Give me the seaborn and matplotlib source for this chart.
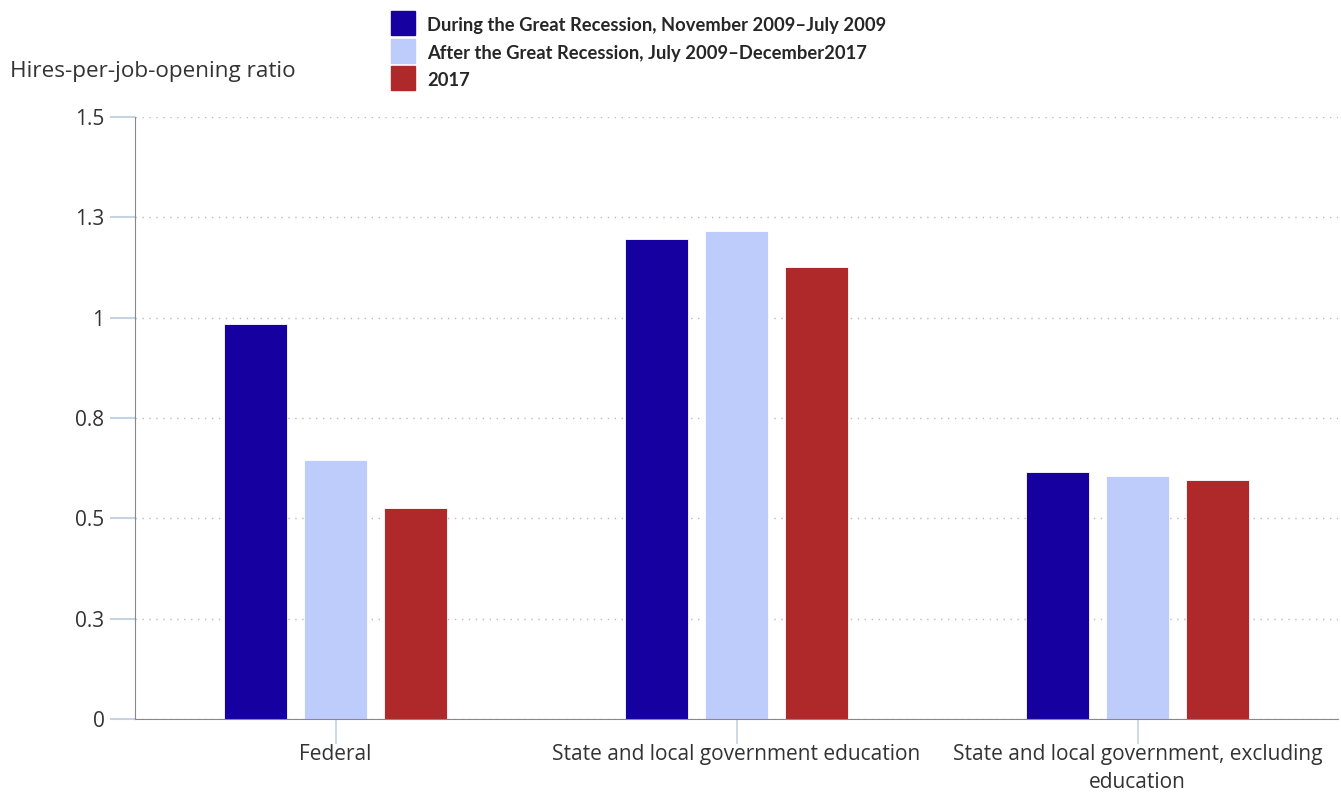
import pandas as pd
import numpy as np

import matplotlib.pyplot as plt
import seaborn as sns
from matplotlib.lines import Line2D

# datos
categories = ["Federal",
              "State and local government education",
              "State and local government, excluding\neducation"]
periods = ["During the Great Recession, November 2009\u2013July 2009",
           "After the Great Recession, July 2009\u2013December2017",
           "2017"]
during = [0.985, 1.195, 0.615]
after = [0.645, 1.215, 0.605]
y2017 = [0.525, 1.125, 0.595]
y_ticks = [0, 0.25, 0.5, 0.75, 1, 1.25, 1.5]
y_labels = ["0", "0.3", "0.5", "0.8", "1", "1.3", "1.5"]
colors = ["#1600A0", "#BDCCFB", "#B0292A"]

data = pd.DataFrame({
    "category": categories * 3,
    "period": [periods[0]] * 3 + [periods[1]] * 3 + [periods[2]] * 3,
    "ratio": during + after + y2017,
})

sns.set_style("white")
plt.rcParams['font.family'] = ['Open Sans', 'DejaVu Sans']

fig = plt.figure(figsize=(13.41, 7.93), dpi=100)
ax = fig.add_axes([0.1007, 0.0933, 0.8971, 0.7592])

sns.barplot(data=data, x="category", y="ratio", hue="period", palette=colors,
            width=0.6, gap=0.215, ax=ax, saturation=1, edgecolor="white",
            linewidth=0.6, legend=False)

ax.set_xlim(-0.5, 2.5)
ax.set_ylim(0, 1.5)
ax.set_yticks(y_ticks)
ax.set_yticklabels(y_labels)
ax.yaxis.grid(True, linestyle=(0, (1, 4)), color="#BBBBBB", linewidth=1)
ax.set_axisbelow(True)

for s in ["top", "right"]:
    ax.spines[s].set_visible(False)
ax.spines["left"].set_color("#888888")
ax.spines["bottom"].set_color("#888888")

ax.tick_params(axis="y", length=18, width=1.5, color="#C5D3E3", labelsize=15,
               pad=4, labelcolor="#333333", left=True)
ax.tick_params(axis="x", length=18, width=1.2, color="#C5D3E3", labelsize=15,
               pad=0, labelcolor="#333333", bottom=True)
for t in ax.get_xticklabels():
    t.set_linespacing(1.45)
ax.set_xlabel("")
ax.set_ylabel("")

fig.text(10 / 1341, 1 - 72 / 793, "Hires-per-job-opening ratio", fontsize=16.2,
         color="#333333", va="center", ha="left")

# leyenda con cuadrados
handles = [Line2D([], [], marker="s", linestyle="", markersize=17, color=c) for c in colors]
fig.legend(handles, periods, loc="upper left", bbox_to_anchor=(376 / 1341, 1 - 2 / 793),
           frameon=False, prop={"family": "Lato", "weight": "bold", "size": 13.2},
           handlelength=1.5, handleheight=1.3, handletextpad=0.6,
           labelspacing=0.42, borderpad=0.2)

fig.savefig("out.png", dpi=100)
